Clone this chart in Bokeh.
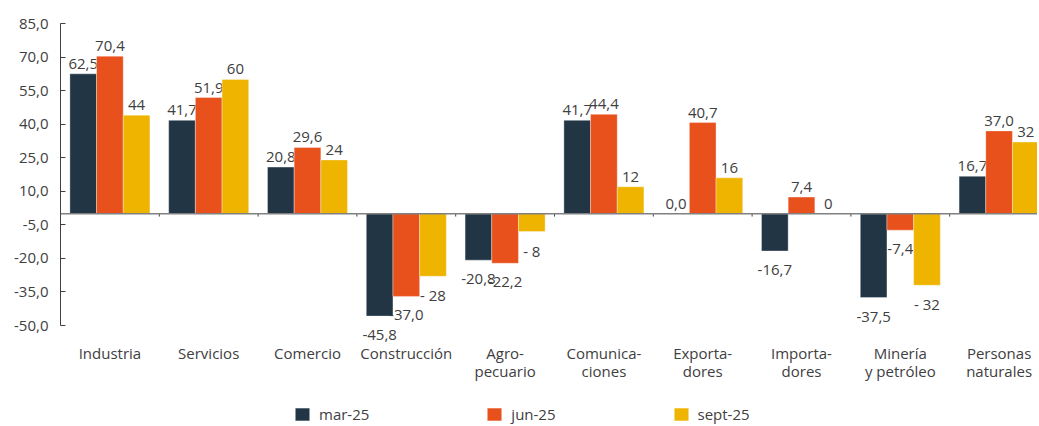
from bokeh.plotting import figure
from bokeh.models import (ColumnDataSource, FixedTicker, CustomJSTickFormatter, Span,
                          Legend, LegendItem, Range1d)
from bokeh.core.properties import value
from bokeh.embed import file_html
from bokeh.resources import INLINE

categories = ["Industria", "Servicios", "Comercio", "Construcción", "Agro-\npecuario",
              "Comunica-\nciones", "Exporta-\ndores", "Importa-\ndores",
              "Minería\ny petróleo", "Personas\nnaturales"]
mar_25 = [62.5, 41.7, 20.8, -45.8, -20.8, 41.7, 0.0, -16.7, -37.5, 16.7]
jun_25 = [70.4, 51.9, 29.6, -37.0, -22.2, 44.4, 40.7, 7.4, -7.4, 37.0]
sept_25 = [44, 60, 24, -28, -8, 12, 16, 0, -32, 32]
series_names = ["mar-25", "jun-25", "sept-25"]
y_ticks = [-50, -35, -20, -5, 10, 25, 40, 55, 70, 85]

colors = ["#213545", "#E8501C", "#EEB400"]
FONT = value("Open Sans")
TXT = "#404040"


def fmt_dec(v):
    return ("%.1f" % v).replace(".", ",")


def fmt_int(v):
    return "- %d" % abs(v) if v < 0 else "%d" % v


n = len(categories)
W, H = 1037, 424
BL, BT = 60, 23
frame_w = W - BL
frame_h = H - BT
px_per_unit_y = 302 / 135
px_per_cat = 98.8
y_lo, y_hi = y_ticks[0], y_ticks[-1]
y_start = y_hi - frame_h / px_per_unit_y

p = figure(width=W, height=H, x_range=Range1d(0, frame_w / px_per_cat),
           y_range=Range1d(y_start, y_hi),
           output_backend="svg", toolbar_location=None,
           min_border_left=BL, min_border_right=0, min_border_top=BT, min_border_bottom=0)
p.outline_line_color = None
p.xgrid.visible = False
p.ygrid.visible = False
p.background_fill_color = "white"

p.add_layout(Span(location=0, dimension="width", line_color="#808080", line_width=1.5))

bar_w = 0.27
offsets = [-bar_w, 0, bar_w]
series = [mar_25, jun_25, sept_25]
formatters = [fmt_dec, fmt_dec, fmt_int]
renderers = []
for vals, col, off, f in zip(series, colors, offsets, formatters):
    xs = [i + 0.5 + off for i in range(n)]
    src = ColumnDataSource(dict(
        x=xs, top=vals, label=[f(v) for v in vals],
        yoff=[-10 if v >= 0 else 19 for v in vals]))
    r = p.vbar(x="x", top="top", bottom=0, width=bar_w, source=src,
               fill_color=col, line_color="white", line_alpha=0.35, line_width=1)
    renderers.append(r)
    p.text(x="x", y="top", text="label", y_offset="yoff", source=src,
           text_align="center", text_baseline="alphabetic", text_font=FONT,
           text_font_size="15px", text_color=TXT)

bounds = list(range(1, n))
p.segment(x0=bounds, y0=[0] * len(bounds), x1=bounds, y1=[-1.3] * len(bounds),
          line_color="#404040", line_width=1)

# x axis: labels only, placed at the bottom of the value scale
xa = p.xaxis[0]
xa.fixed_location = y_lo
xa.ticker = FixedTicker(ticks=[i + 0.5 for i in range(n)])
xa.formatter = CustomJSTickFormatter(args=dict(labels=categories),
                                     code="return labels[Math.floor(tick)]")
xa.axis_line_color = None
xa.major_tick_line_color = None
xa.minor_tick_line_color = None
xa.major_label_standoff = 11
xa.major_label_text_font = "Open Sans"
xa.major_label_text_font_size = "15px"
xa.major_label_text_color = TXT
xa.major_label_text_line_height = 0.93

ya = p.yaxis[0]
ya.ticker = FixedTicker(ticks=y_ticks)
ya.formatter = CustomJSTickFormatter(code="return tick.toFixed(1).replace('.', ',')")
ya.bounds = (y_lo, y_hi)
ya.major_tick_in = 5
ya.major_tick_out = 0
ya.minor_tick_line_color = None
ya.axis_line_color = "#404040"
ya.major_tick_line_color = "#404040"
ya.major_label_standoff = 12
ya.major_label_text_font = "Open Sans"
ya.major_label_text_font_size = "15px"
ya.major_label_text_color = TXT

legend = Legend(items=[LegendItem(label=nm, renderers=[r]) for nm, r in zip(series_names, renderers)],
                orientation="horizontal", location=(233, 0),
                glyph_width=18, glyph_height=16, label_standoff=8, spacing=116,
                padding=0, margin=0, border_line_color=None, background_fill_alpha=0,
                label_text_font="Open Sans", label_text_font_size="15px",
                label_text_color=TXT, label_height=16)
p.add_layout(legend, "center")

open("out.html", "w").write(file_html(p, INLINE))
